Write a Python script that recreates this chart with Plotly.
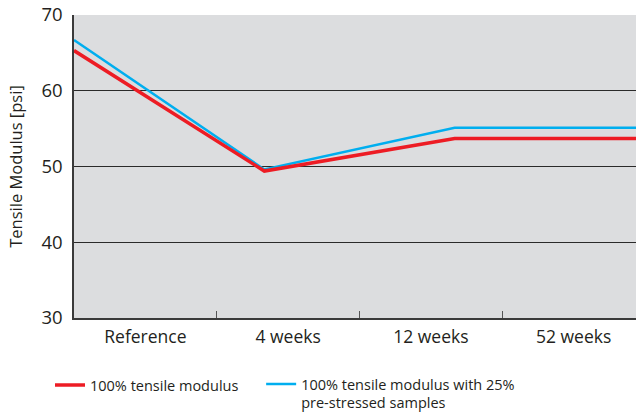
import numpy as np
import plotly.graph_objects as go

categories = ["Reference", "4 weeks", "12 weeks", "52 weeks"]
tensile = [65.3, 49.4, 53.7, 53.7]
prestressed = [66.7, 49.6, 55.1, 55.1]
series_names = ["100% tensile modulus", "100% tensile modulus with 25%<br>pre-stressed samples"]
y_ticks = [30, 40, 50, 60, 70]

n = len(categories)
# line points are spread evenly across the whole category span
x_line = np.linspace(0, n, len(tensile))
x_centers = np.arange(n) + 0.5
x_bounds = np.arange(1, n)

FONT = "Open Sans"
TXT = "#231f20"
x_max = n * (636 - 74) / (645 - 74)

fig = go.Figure()
fig.add_trace(go.Scatter(x=x_line, y=prestressed, mode="lines", name=series_names[1],
                         line=dict(color="#00aeef", width=2.5), legend="legend2"))
fig.add_trace(go.Scatter(x=x_line, y=tensile, mode="lines", name=series_names[0],
                         line=dict(color="#ed1c24", width=3.5), legend="legend"))
# invisible trace on the second x axis to host the boundary tick marks
fig.add_trace(go.Scatter(x=[0, x_max], y=[None, None], xaxis="x2", showlegend=False,
                         hoverinfo="skip", mode="lines"))

legend_common = dict(orientation="h", xanchor="left", yanchor="top", y=-0.165,
                     font=dict(size=14.5), bgcolor="rgba(0,0,0,0)", itemwidth=30,
                     valign="top")

fig.update_layout(
    width=636, height=419,
    margin=dict(l=74, r=0, t=15, b=100),
    paper_bgcolor="white", plot_bgcolor="#dcdddf",
    font=dict(family=FONT, color=TXT, size=16),
    xaxis=dict(range=[0, x_max], tickvals=x_centers, ticktext=categories,
               ticks="", showgrid=False, zeroline=False, showline=True,
               linecolor="#3a3a3a", linewidth=1.5, tickfont=dict(size=17.5),
               ticklabelstandoff=2, automargin=False),
    xaxis2=dict(range=[0, x_max], overlaying="x", side="bottom", tickvals=x_bounds,
                ticks="inside", ticklen=7, tickcolor="#555", tickwidth=1,
                showticklabels=False, showgrid=False, zeroline=False, showline=False,
                automargin=False),
    yaxis=dict(range=[30, 70], tickvals=y_ticks, showgrid=True, gridcolor="#2a2a2a",
               gridwidth=1, zeroline=False, showline=True, linecolor="#3a3a3a",
               linewidth=1.5, ticks="", tickfont=dict(size=18.5), ticklabelstandoff=6,
               automargin=False,
               title=dict(text="Tensile Modulus [psi]", font=dict(size=16.5))),
    legend=dict(x=-0.0427, **legend_common),
    legend2=dict(x=0.333, **legend_common),
    showlegend=True,
)

fig.write_html("out.html", config={"displayModeBar": False},
               post_script="document.body.style.margin='0';document.body.style.overflow='hidden';")
